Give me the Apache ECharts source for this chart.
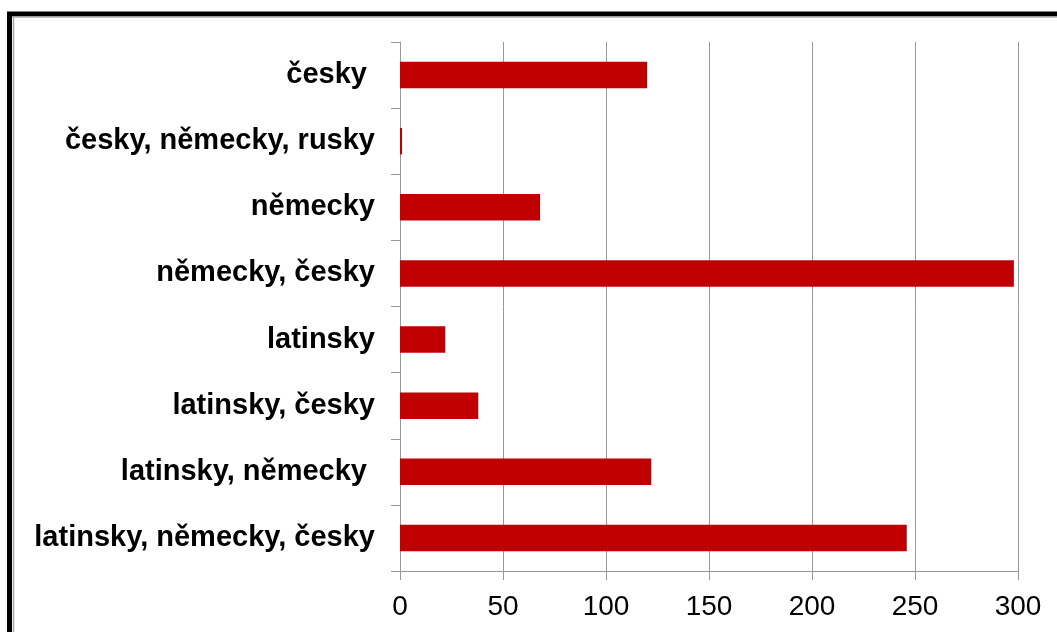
<!doctype html>
<html lang="cs">
  <head>
    <meta charset="utf-8">
    <title>Jazyky</title>
    <script src="https://cdn.jsdelivr.net/npm/echarts@6.0.0/dist/echarts.min.js"></script>
    <style>
      html, body {
        width: 100%;
        height: 100%;
        margin: 0;
        background: #fff;
      }

      #chart {
        width: 1057px;
        height: 632px;
      }
    </style>
  </head>
  <body>
    <div id="chart"></div>
    <script>
      // kategorie shora dolu (mezery na konci jsou v originale)
      const languages = [
        'česky ',
        'česky, německy, rusky',
        'německy',
        'německy, česky',
        'latinsky',
        'latinsky, česky',
        'latinsky, německy ',
        'latinsky, německy, česky'
      ];
      const counts = [120, 1, 68, 298, 22, 38, 122, 246];
      const axisTicks = [0, 50, 100, 150, 200, 250, 300];

      let chart = echarts.init(document.getElementById('chart'), null, {renderer: 'canvas'});

      let option = {
        animation: false,
        textStyle: {
          fontFamily: '"Liberation Sans", Arial, sans-serif'
        },
        graphic: [
          {
            type: 'rect',
            shape: { x: 9.5, y: 14, width: 1100, height: 700 },
            style: { fill: 'none', stroke: '#000', lineWidth: 5 }
          },
          {
            type: 'rect',
            shape: { x: 13.5, y: 17, width: 1100, height: 700 },
            style: { fill: 'none', stroke: '#aaa', lineWidth: 1.5 }
          }
        ],
        grid: {
          left: 400,
          right: 39,
          top: 42,
          bottom: 61
        },
        xAxis: {
          type: 'value',
          min: axisTicks[0],
          max: axisTicks[axisTicks.length - 1],
          interval: axisTicks[1] - axisTicks[0],
          axisLine: { show: true, lineStyle: { color: '#999', width: 1 } },
          axisTick: { show: true, length: 9, lineStyle: { color: '#999' } },
          splitLine: { show: true, lineStyle: { color: '#999', width: 1 } },
          axisLabel: {
            color: '#000',
            fontSize: 28,
            margin: 22
          }
        },
        yAxis: {
          type: 'category',
          inverse: true,
          data: languages,
          axisLine: { show: true, lineStyle: { color: '#999', width: 1 } },
          axisTick: { show: true, length: 9, lineStyle: { color: '#999' } },
          axisLabel: {
            color: '#000',
            fontSize: 29,
            fontWeight: 'bold',
            margin: 25
          }
        },
        series: [
          {
            type: 'bar',
            data: counts,
            barWidth: '40%',
            itemStyle: { color: '#c00000' }
          }
        ]
      };

      chart.setOption(option);
    </script>
  </body>
</html>
